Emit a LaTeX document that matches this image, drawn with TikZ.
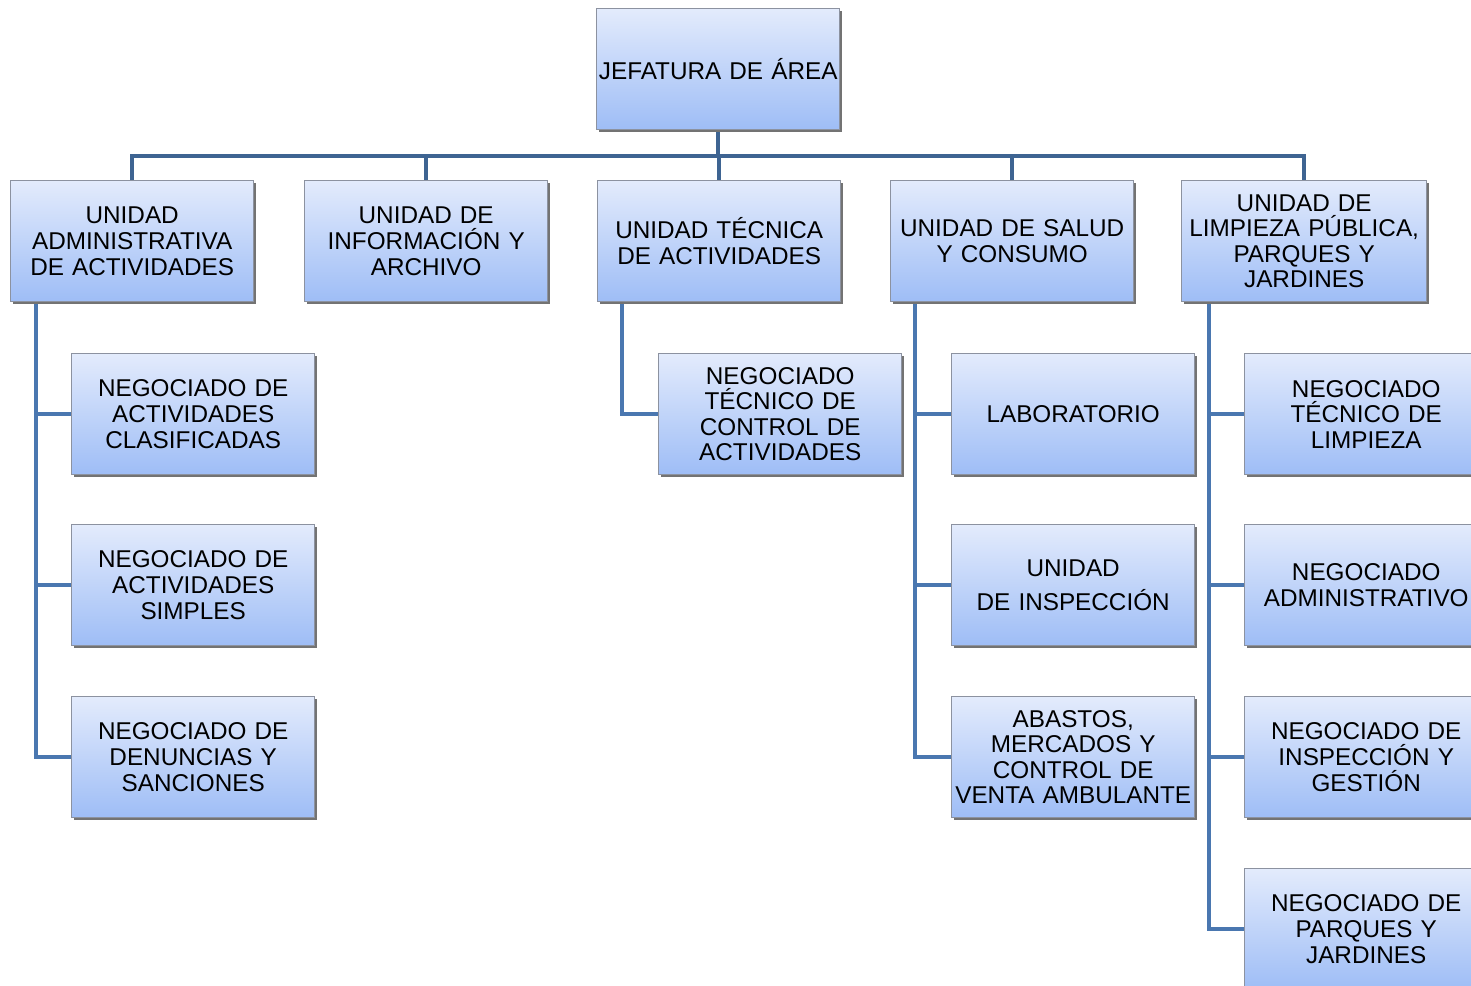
\documentclass[tikz,border=0pt]{standalone}
\usepackage{fontspec}
\setmainfont{Liberation Sans}[WordSpace=0.7]
\usetikzlibrary{backgrounds,shadows}
\definecolor{boxtop}{RGB}{227,235,252}
\definecolor{boxbot}{RGB}{158,189,246}
\definecolor{boxline}{RGB}{140,146,160}
\definecolor{barcol}{RGB}{62,100,146}
\definecolor{conncol}{RGB}{74,119,176}
\tikzset{
  box/.style={draw=boxline, line width=1.4pt, top color=boxtop, bottom color=boxbot,
    anchor=north west, minimum width=243pt, minimum height=121pt, inner sep=0pt,
    align=center, text width=242pt,
    font=\fontsize{24.3}{25.6}\selectfont,
    general shadow={shadow xshift=1.8pt, shadow yshift=-1.8pt, fill=black!55}},
  bar/.style={draw=barcol, line width=4pt},
  conn/.style={draw=conncol, line width=4pt}
}
\begin{document}
\begin{tikzpicture}[x=1pt,y=-1pt]
\useasboundingbox (0,0) rectangle (1471,985);
\clip (0,0) rectangle (1471,985);
\node[box] (jef) at (596,8) {JEFATURA DE ÁREA};
\node[box] (ua) at (10,180) {UNIDAD\\ADMINISTRATIVA\\DE ACTIVIDADES};
\node[box] (ub) at (304,180) {UNIDAD DE\\INFORMACIÓN Y\\ARCHIVO};
\node[box] (uc) at (597,180) {UNIDAD TÉCNICA\\DE ACTIVIDADES};
\node[box] (ud) at (890,180) {UNIDAD DE SALUD\\Y CONSUMO};
\node[box, minimum width=245pt] (ue) at (1181,180) {UNIDAD DE\\LIMPIEZA PÚBLICA,\\PARQUES Y\\JARDINES};
\node[box] (a1) at (71,353) {NEGOCIADO DE\\ACTIVIDADES\\CLASIFICADAS};
\node[box] (a2) at (71,524) {NEGOCIADO DE\\ACTIVIDADES\\SIMPLES};
\node[box] (a3) at (71,696) {NEGOCIADO DE\\DENUNCIAS Y\\SANCIONES};
\node[box] (c1) at (658,353) {NEGOCIADO\\TÉCNICO DE\\CONTROL DE\\ACTIVIDADES};
\node[box] (d1) at (951,353) {LABORATORIO};
\node[box] (d2) at (951,524) {UNIDAD\\[9pt]DE INSPECCIÓN};
\node[box] (d3) at (951,696) {ABASTOS,\\MERCADOS Y\\CONTROL DE\\VENTA AMBULANTE};
\node[box] (e1) at (1244,353) {NEGOCIADO\\TÉCNICO DE\\LIMPIEZA};
\node[box] (e2) at (1244,524) {NEGOCIADO\\ADMINISTRATIVO};
\node[box] (e3) at (1244,696) {NEGOCIADO DE\\INSPECCIÓN Y\\GESTIÓN};
\node[box] (e4) at (1244,868) {NEGOCIADO DE\\PARQUES Y\\JARDINES};
\begin{scope}[on background layer]
\foreach \c in {ua,ub,uc,ud,ue}{
  \draw[bar] (jef.south) -- ++(0,26) -| (\c.north);
}
\foreach \c in {a1,a2,a3}{
  \draw[conn] ([xshift=26pt]ua.south west) |- (\c.west);
}
\draw[conn] ([xshift=25pt]uc.south west) |- (c1.west);
\foreach \c in {d1,d2,d3}{
  \draw[conn] ([xshift=25pt]ud.south west) |- (\c.west);
}
\foreach \c in {e1,e2,e3,e4}{
  \draw[conn] ([xshift=28pt]ue.south west) |- (\c.west);
}
\end{scope}
\end{tikzpicture}
\end{document}
